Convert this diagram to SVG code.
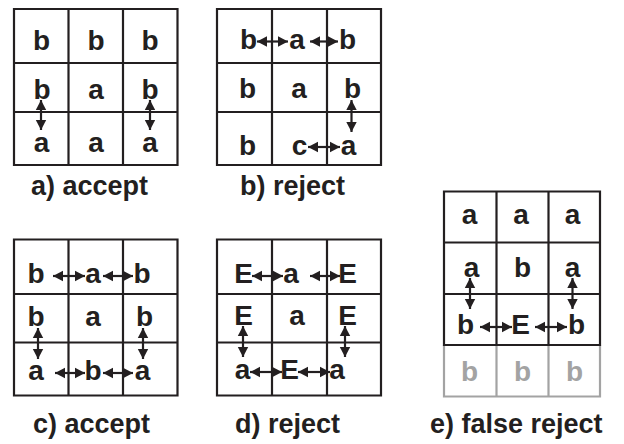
<svg xmlns="http://www.w3.org/2000/svg" width="624" height="444" viewBox="0 0 624 444">
  <style>
    .grid { fill: none; stroke: #231f20; stroke-width: 2.2; }
    .grid-gray { fill: none; stroke: #a3a3a3; stroke-width: 2.2; }
    .cell { font-family: "Liberation Sans", Arial, sans-serif; font-weight: bold; font-size: 28px; fill: #231f20; text-anchor: middle; }
    .cell-gray { fill: #a3a3a3; }
    .caption { font-family: "Liberation Sans", Arial, sans-serif; font-weight: bold; font-size: 27px; fill: #231f20; }
    .link { stroke: #231f20; stroke-width: 2.2; fill: none; marker-start: url(#head); marker-end: url(#head); }
  </style>
  <defs>
    <marker id="head" markerUnits="userSpaceOnUse" markerWidth="11" markerHeight="12" refX="10" refY="6" orient="auto-start-reverse">
      <path d="M0,0.8 L10,6 L0,11.2 z" fill="#231f20"/>
    </marker>
  </defs>
  <rect width="624" height="444" fill="#ffffff"/>

  <!-- a) accept -->
  <g id="panel-a">
    <path class="grid" d="M14,9 H177.5 V165 H14 Z M68.5,9 V165 M123,9 V165 M14,63 H177.5 M14,112 H177.5"/>
    <text class="cell" x="41.5" y="50">b</text>
    <text class="cell" x="96" y="50">b</text>
    <text class="cell" x="150" y="50">b</text>
    <text class="cell" x="42" y="99">b</text>
    <text class="cell" x="96" y="99">a</text>
    <text class="cell" x="150" y="99">b</text>
    <text class="cell" x="41.5" y="152">a</text>
    <text class="cell" x="96" y="152">a</text>
    <text class="cell" x="150" y="152">a</text>
    <text class="caption" x="31" y="195">a) accept</text>
  </g>

  <!-- b) reject -->
  <g id="panel-b">
    <path class="grid" d="M217,9 H381 V165 H217 Z M272,9 V165 M327,9 V165 M217,63 H381 M217,112 H381"/>
    <text class="cell" x="248.5" y="49">b</text>
    <text class="cell" x="297" y="49">a</text>
    <text class="cell" x="347.5" y="49">b</text>
    <text class="cell" x="247.5" y="98">b</text>
    <text class="cell" x="299" y="98">a</text>
    <text class="cell" x="352.5" y="98">b</text>
    <text class="cell" x="247.5" y="155">b</text>
    <text class="cell" x="299.5" y="155">c</text>
    <text class="cell" x="348.5" y="155">a</text>
    <text class="caption" x="240" y="195">b) reject</text>
  </g>

  <!-- c) accept -->
  <g id="panel-c">
    <path class="grid" d="M14,239.5 H177.5 V395.5 H14 Z M68.5,239.5 V395.5 M123,239.5 V395.5 M14,294 H177.5 M14,342.5 H177.5"/>
    <text class="cell" x="36" y="283">b</text>
    <text class="cell" x="93" y="283">a</text>
    <text class="cell" x="142" y="283">b</text>
    <text class="cell" x="36" y="326">b</text>
    <text class="cell" x="93" y="326">a</text>
    <text class="cell" x="144.5" y="326">b</text>
    <text class="cell" x="36" y="380">a</text>
    <text class="cell" x="93" y="380">b</text>
    <text class="cell" x="142.5" y="380">a</text>
    <text class="caption" x="33" y="433">c) accept</text>
  </g>

  <!-- d) reject -->
  <g id="panel-d">
    <path class="grid" d="M217,239.5 H381 V395.5 H217 Z M272,239.5 V395.5 M327,239.5 V395.5 M217,294 H381 M217,342.5 H381"/>
    <text class="cell" x="243.5" y="283">E</text>
    <text class="cell" x="291" y="283">a</text>
    <text class="cell" x="347.5" y="283">E</text>
    <text class="cell" x="243.5" y="325">E</text>
    <text class="cell" x="297" y="325">a</text>
    <text class="cell" x="347.5" y="325">E</text>
    <text class="cell" x="242.5" y="379">a</text>
    <text class="cell" x="289.5" y="379">E</text>
    <text class="cell" x="337" y="379">a</text>
    <text class="caption" x="235" y="433">d) reject</text>
  </g>

  <!-- e) false reject -->
  <g id="panel-e">
    <path class="grid-gray" d="M444,345 V396.5 H600 V345 M496.5,345 V396.5 M548.5,345 V396.5"/>
    <path class="grid" d="M444,191.5 H600 V345 H444 Z M496.5,191.5 V345 M548.5,191.5 V345 M444,242.5 H600 M444,294 H600"/>
    <text class="cell" x="469.5" y="224">a</text>
    <text class="cell" x="521" y="224">a</text>
    <text class="cell" x="572.5" y="224">a</text>
    <text class="cell" x="471.5" y="277">a</text>
    <text class="cell" x="522.5" y="277">b</text>
    <text class="cell" x="572.5" y="277">a</text>
    <text class="cell" x="465.5" y="334">b</text>
    <text class="cell" x="520.5" y="334">E</text>
    <text class="cell" x="576.5" y="334">b</text>
    <text class="cell cell-gray" x="469.5" y="381">b</text>
    <text class="cell cell-gray" x="522.5" y="381">b</text>
    <text class="cell cell-gray" x="574.5" y="381">b</text>
    <text class="caption" x="430" y="433">e) false reject</text>
  </g>

  <!-- double-headed swap arrows -->
  <g id="connectors">
    <line class="link" x1="41" y1="100" x2="41" y2="130"/>
    <line class="link" x1="150" y1="100" x2="150" y2="130"/>

    <line class="link" x1="257" y1="41.5" x2="288" y2="41.5"/>
    <line class="link" x1="310" y1="41.5" x2="338" y2="41.5"/>
    <line class="link" x1="351.5" y1="100" x2="351.5" y2="132"/>
    <line class="link" x1="308" y1="147" x2="340" y2="147"/>

    <line class="link" x1="53" y1="276" x2="85" y2="276"/>
    <line class="link" x1="103" y1="276" x2="133" y2="276"/>
    <line class="link" x1="38" y1="328" x2="38" y2="359"/>
    <line class="link" x1="143" y1="328" x2="143" y2="359"/>
    <line class="link" x1="55" y1="373" x2="85" y2="373"/>
    <line class="link" x1="103" y1="373" x2="133" y2="373"/>

    <line class="link" x1="252" y1="276" x2="283" y2="276"/>
    <line class="link" x1="310" y1="276" x2="340" y2="276"/>
    <line class="link" x1="243" y1="326" x2="243" y2="357"/>
    <line class="link" x1="345" y1="326" x2="345" y2="357"/>
    <line class="link" x1="250" y1="372" x2="282" y2="372"/>
    <line class="link" x1="298" y1="372" x2="330" y2="372"/>

    <line class="link" x1="470" y1="278" x2="470" y2="309"/>
    <line class="link" x1="572.5" y1="278" x2="572.5" y2="309"/>
    <line class="link" x1="480" y1="327" x2="512" y2="327"/>
    <line class="link" x1="535" y1="327" x2="567" y2="327"/>
  </g>
</svg>
